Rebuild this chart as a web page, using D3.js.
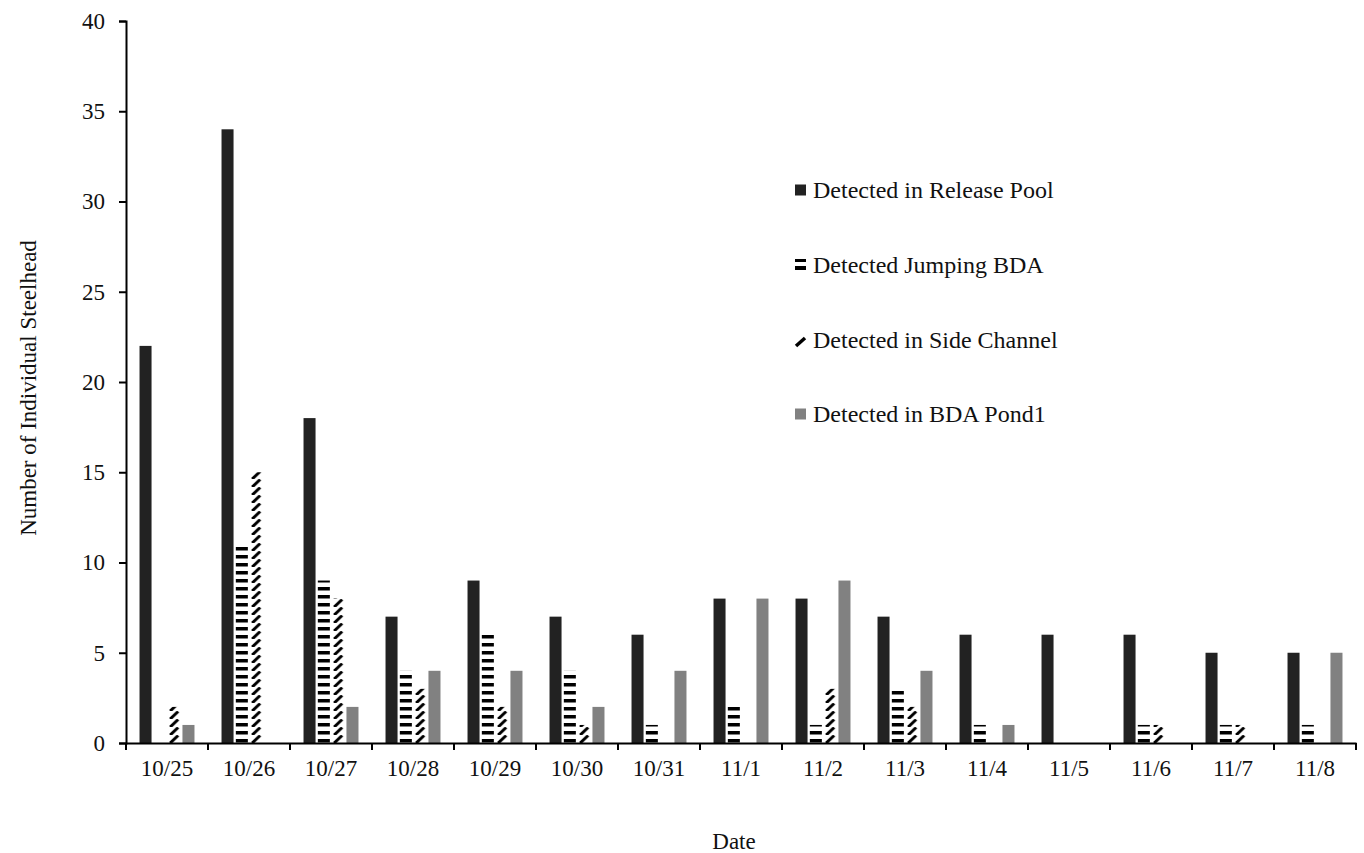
<!DOCTYPE html>
<html>
<head>
<meta charset="utf-8">
<script src="https://cdn.jsdelivr.net/npm/d3@7"></script>
<style>
  html, body { margin: 0; padding: 0; background: #fff; }
  svg { display: block; }
  text { font-family: "Liberation Serif", "Times New Roman", serif; fill: #111; }
</style>
</head>
<body>
<svg id="chart" width="1364" height="853"></svg>
<script>
const dates = ["10/25","10/26","10/27","10/28","10/29","10/30","10/31","11/1","11/2","11/3","11/4","11/5","11/6","11/7","11/8"];
const seriesNames = ["Detected in Release Pool","Detected Jumping BDA","Detected in Side Channel","Detected in BDA Pond1"];
const releasePool = [22,34,18,7,9,7,6,8,8,7,6,6,6,5,5];
const jumpingBDA  = [0,11,9,4,6,4,1,2,1,3,1,0,1,1,1];
const sideChannel = [2,15,8,3,2,1,0,0,3,2,0,0,1,1,0];
const bdaPond1    = [1,0,2,4,4,2,4,8,9,4,1,0,0,0,5];
const yTicks = [0,5,10,15,20,25,30,35,40];

(function () {
const seriesValues = [releasePool, jumpingBDA, sideChannel, bdaPond1];
const svg = d3.select("#chart");
const mLeft = 126, mRight = 1356, mTop = 21, mBottom = 743;
const FONT = '"Liberation Serif", "Times New Roman", serif';

const x0 = d3.scaleBand().domain(dates).range([mLeft, mRight]).padding(0);
const x1 = d3.scaleBand().domain(d3.range(4)).range([0, x0.bandwidth()])
  .paddingInner(0.16).paddingOuter(0.945);
const y = d3.scaleLinear().domain([0, 40]).range([mBottom, mTop]);

const defs = svg.append("defs");
const ps = defs.append("pattern").attr("id","stripes").attr("patternUnits","userSpaceOnUse")
  .attr("width", 8).attr("height", 8).attr("y", mBottom);
ps.append("rect").attr("width",8).attr("height",8).attr("fill","#fff");
ps.append("rect").attr("x",0).attr("y",4).attr("width",8).attr("height",3.5).attr("fill","#000");

const bw = x1.bandwidth();
const fills = ["#222222", "url(#stripes)", null, "#818181"];

const data = [];
dates.forEach((d, i) => {
  seriesValues.forEach((vals, s) => {
    data.push({date: d, i, s, v: vals[i]});
  });
});

data.filter(d => d.s === 2).forEach(d => {
  const bx = x0(d.date) + x1(2);
  const p = defs.append("pattern").attr("id", "diag" + d.i).attr("patternUnits","userSpaceOnUse")
    .attr("x", bx).attr("y", mBottom).attr("width", bw).attr("height", 8);
  p.append("rect").attr("width", bw).attr("height", 8).attr("fill", "#fff");
  p.append("line").attr("x1", 2).attr("y1", 8).attr("x2", bw - 2).attr("y2", 0.5)
    .attr("stroke", "#000").attr("stroke-width", 3);
});

svg.append("g").selectAll("rect").data(data.filter(d => d.v > 0)).join("rect")
  .attr("x", d => x0(d.date) + x1(d.s))
  .attr("y", d => y(d.v))
  .attr("width", bw)
  .attr("height", d => y(0) - y(d.v))
  .attr("fill", d => d.s === 2 ? `url(#diag${d.i})` : fills[d.s]);

const yAxis = svg.append("g").attr("transform", `translate(${mLeft},0)`)
  .call(d3.axisLeft(y).tickValues(yTicks).tickSize(7).tickPadding(14));
yAxis.select(".domain").attr("stroke", "#000").attr("stroke-width", 2);
yAxis.selectAll(".tick line").attr("stroke", "#000").attr("stroke-width", 2);
yAxis.selectAll(".tick text").style("font-family", FONT).style("font-size", "23px").attr("fill", "#111");

const xAxis = svg.append("g").attr("transform", `translate(0,${mBottom})`)
  .call(d3.axisBottom(x0).tickSize(0).tickPadding(17));
xAxis.select(".domain").attr("stroke", "#000").attr("stroke-width", 2);
xAxis.selectAll(".tick text").style("font-family", FONT).style("font-size", "23px").attr("fill", "#111");
const bounds = dates.map(d => x0(d)).concat([mRight]);
svg.append("g").selectAll("line").data(bounds).join("line")
  .attr("x1", d => d).attr("x2", d => d).attr("y1", mBottom).attr("y2", mBottom + 7)
  .attr("stroke", "#000").attr("stroke-width", 2);

svg.append("text").attr("x", 734).attr("y", 849).attr("text-anchor", "middle")
  .style("font-size", "23px").text("Date");
svg.append("text").attr("transform", "translate(36,388) rotate(-90)").attr("text-anchor", "middle")
  .style("font-size", "23px").text("Number of Individual Steelhead");

const legY = [190, 265, 340, 414];
const leg = svg.append("g");
seriesNames.forEach((name, s) => {
  const g = leg.append("g").attr("transform", `translate(795,${legY[s]})`);
  if (s === 0 || s === 3) {
    g.append("rect").attr("x", 0).attr("y", -5.5).attr("width", 11).attr("height", 11).attr("fill", fills[s]);
  } else if (s === 1) {
    g.append("rect").attr("x", 0).attr("y", -6).attr("width", 11).attr("height", 3).attr("fill", "#000");
    g.append("rect").attr("x", 0).attr("y", 1).attr("width", 11).attr("height", 4).attr("fill", "#000");
  } else {
    g.append("line").attr("x1", 1).attr("y1", 6).attr("x2", 10).attr("y2", -2)
      .attr("stroke", "#000").attr("stroke-width", 3.5);
  }
  g.append("text").attr("x", 18).attr("y", 0).attr("dy", "0.35em")
    .style("font-size", "24px").text(name);
});
})();
</script>
</body>
</html>
